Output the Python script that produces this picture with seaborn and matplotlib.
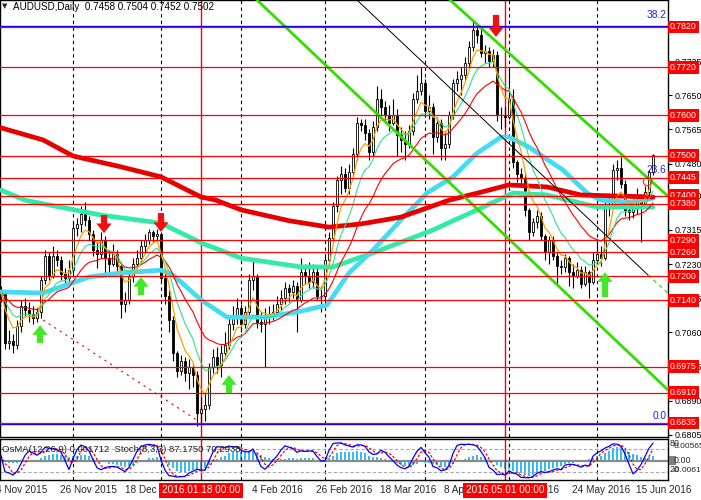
import numpy as np
import pandas as pd
import matplotlib
matplotlib.use("Agg")
import matplotlib.pyplot as plt
import seaborn as sns
from matplotlib.transforms import blended_transform_factory as btf

sns.set_theme(style="white")
plt.rcParams["font.family"] = ["Liberation Sans", "DejaVu Sans"]
plt.rcParams["patch.force_edgecolor"] = False

# ---------------- data ----------------
first_open = 0.7165
close = [
    0.7160, 0.7035, 0.7040, 0.7030, 0.7075, 0.7125, 0.7115, 0.7105, 0.7095, 0.7110,
    0.7190, 0.7250, 0.7200, 0.7250, 0.7240, 0.7205, 0.7195, 0.7215, 0.7320, 0.7330,
    0.7355, 0.7340, 0.7305, 0.7265, 0.7255, 0.7290, 0.7245, 0.7230, 0.7255, 0.7225,
    0.7130, 0.7140, 0.7200, 0.7230, 0.7245, 0.7275, 0.7290, 0.7310, 0.7300, 0.7305,
    0.7195, 0.7150, 0.7090, 0.7010, 0.6965, 0.6990, 0.6960, 0.6975, 0.6955, 0.6860,
    0.6870, 0.6880, 0.6975, 0.7000, 0.6980, 0.7010, 0.7030, 0.7080, 0.7095, 0.7120,
    0.7080, 0.7110, 0.7190, 0.7200, 0.7085, 0.7080, 0.7100, 0.7100, 0.7110, 0.7130,
    0.7145, 0.7170, 0.7160, 0.7175, 0.7140, 0.7210, 0.7200, 0.7185, 0.7210, 0.7150,
    0.7150, 0.7240, 0.7295, 0.7375, 0.7440, 0.7455, 0.7420, 0.7460, 0.7505, 0.7580,
    0.7575, 0.7555, 0.7510, 0.7570, 0.7640, 0.7620, 0.7600, 0.7580, 0.7600, 0.7550,
    0.7540, 0.7530, 0.7560, 0.7640, 0.7660, 0.7680, 0.7610, 0.7620, 0.7545, 0.7580,
    0.7520, 0.7530, 0.7600, 0.7680, 0.7690, 0.7700, 0.7730, 0.7770, 0.7812, 0.7800,
    0.7755, 0.7760, 0.7735, 0.7750, 0.7600, 0.7600, 0.7595, 0.7640, 0.7485, 0.7455,
    0.7445, 0.7365, 0.7310, 0.7335, 0.7350, 0.7300, 0.7260, 0.7290, 0.7250, 0.7225,
    0.7222, 0.7245, 0.7210, 0.7200, 0.7215, 0.7180, 0.7210, 0.7185, 0.7240, 0.7255,
    0.7245, 0.7372, 0.7380, 0.7465, 0.7470, 0.7430, 0.7365, 0.7360, 0.7375, 0.7400,
    0.7375, 0.7410, 0.7458, 0.7502]
high = [
    0.7175, 0.7160, 0.7065, 0.7055, 0.7090, 0.7140, 0.7145, 0.7135, 0.7125, 0.7120,
    0.7200, 0.7265, 0.7260, 0.7275, 0.7265, 0.7250, 0.7220, 0.7240, 0.7335, 0.7345,
    0.7375, 0.7385, 0.7350, 0.7315, 0.7285, 0.7310, 0.7300, 0.7265, 0.7280, 0.7265,
    0.7235, 0.7160, 0.7215, 0.7245, 0.7265, 0.7290, 0.7305, 0.7318, 0.7315, 0.7318,
    0.7310, 0.7215, 0.7165, 0.7100, 0.7015, 0.7005, 0.7000, 0.6995, 0.6985, 0.6965,
    0.6900, 0.6910, 0.6985, 0.7020, 0.7025, 0.7030, 0.7060, 0.7095, 0.7125, 0.7145,
    0.7130, 0.7125, 0.7205, 0.7240, 0.7205, 0.7110, 0.7120, 0.7125, 0.7130, 0.7150,
    0.7165, 0.7185, 0.7180, 0.7190, 0.7185, 0.7245, 0.7230, 0.7235, 0.7230, 0.7220,
    0.7175, 0.7250, 0.7310, 0.7385, 0.7450, 0.7475, 0.7470, 0.7480, 0.7520, 0.7595,
    0.7590, 0.7590, 0.7565, 0.7585, 0.7672, 0.7665, 0.7635, 0.7625, 0.7640, 0.7615,
    0.7570, 0.7560, 0.7575, 0.7655, 0.7700, 0.7720, 0.7690, 0.7650, 0.7630, 0.7595,
    0.7590, 0.7560, 0.7610, 0.7690, 0.7710, 0.7720, 0.7745, 0.7785, 0.7835, 0.7830,
    0.7815, 0.7775, 0.7770, 0.7765, 0.7760, 0.7620, 0.7620, 0.7718, 0.7665, 0.7490,
    0.7470, 0.7460, 0.7370, 0.7345, 0.7365, 0.7360, 0.7305, 0.7300, 0.7300, 0.7260,
    0.7240, 0.7255, 0.7250, 0.7230, 0.7235, 0.7225, 0.7225, 0.7215, 0.7260, 0.7290,
    0.7275, 0.7385, 0.7400, 0.7480, 0.7490, 0.7497, 0.7440, 0.7390, 0.7395, 0.7420,
    0.7405, 0.7425, 0.7465, 0.7504]
low = [
    0.7135, 0.7020, 0.7018, 0.7010, 0.7020, 0.7060, 0.7100, 0.7085, 0.7080, 0.7085,
    0.7095, 0.7180, 0.7190, 0.7195, 0.7225, 0.7190, 0.7180, 0.7185, 0.7205, 0.7300,
    0.7310, 0.7325, 0.7290, 0.7250, 0.7220, 0.7245, 0.7200, 0.7210, 0.7225, 0.7210,
    0.7095, 0.7110, 0.7130, 0.7185, 0.7220, 0.7235, 0.7260, 0.7280, 0.7285, 0.7285,
    0.7185, 0.7130, 0.7060, 0.6990, 0.6950, 0.6955, 0.6940, 0.6920, 0.6925, 0.6827,
    0.6835, 0.6840, 0.6870, 0.6960, 0.6960, 0.6950, 0.7000, 0.7020, 0.7065, 0.7080,
    0.7060, 0.7070, 0.7100, 0.7165, 0.7070, 0.7060, 0.6975, 0.7080, 0.7090, 0.7100,
    0.7115, 0.7130, 0.7135, 0.7145, 0.7060, 0.7135, 0.7180, 0.7170, 0.7170, 0.7140,
    0.7110, 0.7140, 0.7230, 0.7285, 0.7360, 0.7405, 0.7410, 0.7405, 0.7450, 0.7490,
    0.7560, 0.7540, 0.7490, 0.7500, 0.7560, 0.7600, 0.7585, 0.7560, 0.7575, 0.7500,
    0.7510, 0.7490, 0.7520, 0.7550, 0.7630, 0.7650, 0.7595, 0.7590, 0.7505, 0.7535,
    0.7489, 0.7490, 0.7520, 0.7590, 0.7660, 0.7650, 0.7690, 0.7720, 0.7760, 0.7780,
    0.7745, 0.7730, 0.7720, 0.7720, 0.7585, 0.7565, 0.7570, 0.7590, 0.7470, 0.7435,
    0.7430, 0.7350, 0.7290, 0.7300, 0.7320, 0.7290, 0.7240, 0.7230, 0.7240, 0.7175,
    0.7205, 0.7210, 0.7175, 0.7170, 0.7195, 0.7170, 0.7175, 0.7145, 0.7180, 0.7230,
    0.7225, 0.7240, 0.7350, 0.7370, 0.7440, 0.7420, 0.7350, 0.7340, 0.7345, 0.7355,
    0.7285, 0.7370, 0.7400, 0.7452]

# long moving averages read at sample bars
ma_red_bar = [0, 10.5, 18, 30, 40, 50, 53.5, 60, 72, 82, 90, 100, 112, 120, 127, 136.5, 145, 163]
ma_red_val = [0.7569, 0.7539, 0.7499, 0.7472, 0.7447, 0.7397, 0.7390, 0.7365, 0.7338, 0.7322,
              0.7330, 0.7347, 0.7389, 0.7409, 0.7427, 0.7422, 0.7402, 0.7397]
ma_teal_bar = [0, 6, 25, 40, 50, 60, 75, 83, 93, 108, 119, 128, 136.5, 149, 163]
ma_teal_val = [0.7414, 0.7389, 0.7352, 0.7332, 0.7283, 0.7245, 0.7223, 0.7223, 0.7258, 0.7315,
               0.7365, 0.7407, 0.7402, 0.7372, 0.7372]
ma_cyan_bar = [0, 10.5, 22, 30, 40, 43, 50, 56.5, 66.5, 75, 81.5, 87, 93, 100, 106.5, 113, 119,
               125, 127, 132, 140.5, 146.5, 150, 157, 163]
ma_cyan_val = [0.7161, 0.7158, 0.7198, 0.7208, 0.7215, 0.7203, 0.7141, 0.7098, 0.7098, 0.7113,
               0.7128, 0.7208, 0.7265, 0.7340, 0.7407, 0.7447, 0.7506, 0.7546, 0.7546, 0.7521,
               0.7464, 0.7407, 0.7389, 0.7384, 0.7394]

levels = [0.7820, 0.7720, 0.7600, 0.7500, 0.7445, 0.7400, 0.7380, 0.7290, 0.7260,
          0.7200, 0.7140, 0.6975, 0.6910, 0.6835]
fib_levels = [0.7823, 0.6832]
price_ticks = [0.6805, 0.6890, 0.6975, 0.7060, 0.7145, 0.7230, 0.7315, 0.7400, 0.7480,
               0.7565, 0.7650, 0.7735]

# trend lines (bar, price) end points
green_line1 = ([64, 166.75], [0.7887, 0.6917])
green_line2 = ([112.25, 166.75], [0.7887, 0.7399])
black_line = ([89, 161.75], [0.7887, 0.7203])
black_line_tail = ([161.75, 166.75], [0.7203, 0.7158])
red_dot_line = ([10.5, 49], [0.7091, 0.6842])

month_bars = [18, 40, 60, 81, 106, 127, 149]
marker_bars = [50, 126]
marker_texts = ["2016.01.18 00:00", "2016.05.01 00:00"]
date_labels = ["4 Nov 2015", "26 Nov 2015", "18 Dec 2015", "4 Feb 2016",
               "26 Feb 2016", "18 Mar 2016", "8 Apr 2016", "29 Apr 2016", "24 May 2016",
               "15 Jun 2016"]
date_bars = [-1.25, 14.75, 31.0, 62.75, 78.75, 94.75, 110.75, 126.0, 142.75, 158.75]

down_arrows = ([25.75, 40, 123.75], [0.7307, 0.7310, 0.7795], [0.7352, 0.7357, 0.7850])
up_arrows = ([9.75, 35, 57, 151], [0.7078, 0.7198, 0.6954, 0.7210], [0.7034, 0.7153, 0.6909, 0.7148])

assert len(close) == len(high) == len(low) == 164

# ---------------- derived ----------------
n = len(close)
bars = np.arange(n)
c = np.array(close)
o = np.array([first_open] + close[:-1])
h = np.maximum(np.array(high), np.maximum(o, c))
l = np.minimum(np.array(low), np.minimum(o, c))
s = pd.Series(c)
ema_fast = s.ewm(span=5, adjust=False).mean()
ema_mid = s.ewm(span=10, adjust=False).mean()
ema_slow = s.ewm(span=20, adjust=False).mean()
macd = s.ewm(span=12, adjust=False).mean() - s.ewm(span=26, adjust=False).mean()
osma = macd - macd.rolling(9, min_periods=1).mean()
hh = pd.Series(h).rolling(5, min_periods=1).max()
ll = pd.Series(l).rolling(5, min_periods=1).min()
num = (s - ll).rolling(3, min_periods=1).sum()
den = (hh - ll).rolling(3, min_periods=1).sum()
stoch_k = 100 * num / den
stoch_d = stoch_k.rolling(3, min_periods=1).mean()

# ---------------- figure ----------------
W, H = 701, 500
fig = plt.figure(figsize=(W / 100, H / 100), dpi=100)
fig.patch.set_facecolor("white")
axw = 668 / W
ax = fig.add_axes([0, 1 - 437 / H, axw, 437 / H])
axo = fig.add_axes([0, 1 - 480 / H, axw, 41 / H])
for a in (ax, axo):
    a.set_facecolor("white")
    for sp in a.spines.values():
        sp.set_color("black")
        sp.set_linewidth(1.0)
    a.set_xlim(-0.25, 166.75)
    a.set_xticks([])

ax.set_ylim(0.6800, 0.7887)
FS = 6.8

# vertical separators
for b in month_bars:
    for a in (ax, axo):
        a.axvline(b, color="black", lw=0.8, ls=(0, (3, 3)), zorder=1)
for b in marker_bars:
    for a in (ax, axo):
        a.axvline(b, color="#ff0000", lw=1.0, zorder=1)

# candles
up = c >= o
ax.vlines(bars, l, h, color="black", lw=0.8, zorder=3)
body_bot = np.minimum(o, c)
body_h = np.maximum(np.abs(c - o), 0.00008)
ax.bar(bars[up], body_h[up], bottom=body_bot[up], width=0.72, color="white",
       edgecolor="black", linewidth=0.6, zorder=3.2)
ax.bar(bars[~up], body_h[~up], bottom=body_bot[~up], width=0.72, color="black",
       edgecolor="black", linewidth=0.6, zorder=3.2)

# moving averages
sns.lineplot(x=ma_teal_bar, y=ma_teal_val, ax=ax, color="#33eaa6", lw=3.4, sort=False, zorder=4)
sns.lineplot(x=ma_cyan_bar, y=ma_cyan_val, ax=ax, color="#45dcf2", lw=3.4, sort=False, zorder=4)
sns.lineplot(x=ma_red_bar, y=ma_red_val, ax=ax, color="#e60000", lw=3.4, sort=False, zorder=4)
sns.lineplot(x=bars, y=ema_slow.values, ax=ax, color="#ff0000", lw=0.8, sort=False, zorder=4.2)
sns.lineplot(x=bars, y=ema_mid.values, ax=ax, color="#2ee38a", lw=0.8, sort=False, zorder=4.2)
sns.lineplot(x=bars, y=ema_fast.values, ax=ax, color="#ffa000", lw=0.9, sort=False, zorder=4.3)

# trend lines
ax.plot(*green_line1, color="#33dd00", lw=2.0, zorder=4.5)
ax.plot(*green_line2, color="#33dd00", lw=2.0, zorder=4.5)
ax.plot(*black_line, color="black", lw=0.7, zorder=4.5)
ax.plot(*black_line_tail, color="#33dd00", lw=0.9, ls=(0, (3, 3)), zorder=4.5)
ax.plot(*red_dot_line, color="#ff0000", lw=0.8, ls=(0, (2, 4)), zorder=4.5)

# horizontal levels
for f in fib_levels:
    ax.axhline(f, color="#0000ff", lw=1.0, zorder=5)
for lv in levels:
    ax.axhline(lv, color="#ff0000", lw=0.9, zorder=5.1)

# arrows
for x, tip, tail in zip(*down_arrows):
    ax.annotate("", xy=(x, tip), xytext=(x, tail),
                arrowprops=dict(arrowstyle="simple,head_width=1.1,head_length=0.7,tail_width=0.45",
                                color="#ee1111", mutation_scale=10, shrinkA=0, shrinkB=0, lw=0),
                zorder=6)
for x, tip, tail in zip(*up_arrows):
    ax.annotate("", xy=(x, tip), xytext=(x, tail),
                arrowprops=dict(arrowstyle="simple,head_width=1.1,head_length=0.7,tail_width=0.45",
                                color="#44e62a", mutation_scale=10, shrinkA=0, shrinkB=0, lw=0),
                zorder=6)

ax.plot([161.5], [0.7436], marker="o", ms=6, mfc="none", mec="#ff3030", mew=0.9, zorder=6)
ax.text(166.3, 0.7838, "38.2", color="#2020ee", fontsize=FS + 0.5, ha="right", va="bottom", zorder=7)
ax.text(166.3, 0.7452, "23.6", color="#2020ee", fontsize=FS + 0.5, ha="right", va="bottom", zorder=7)
ax.text(166.3, 0.6840, "0.0", color="#2020ee", fontsize=FS + 0.5, ha="right", va="bottom", zorder=7)

# right price axis
ax.yaxis.tick_right()
ax.set_yticks(price_ticks)
ax.set_yticklabels([f"{t:.4f}" for t in price_ticks])
ax.tick_params(axis="y", direction="out", length=3, width=0.8, pad=2, labelsize=6.4,
               colors="black", right=True, left=False)
trans = btf(ax.transAxes, ax.transData)
for lv in levels:
    ax.text(670 / 668, lv, f"{lv:.4f}", transform=trans, fontsize=6.3, color="white",
            ha="left", va="center", clip_on=False, zorder=10,
            bbox=dict(boxstyle="square,pad=0.22", fc="#ff0000", ec="none"))

fig.text(2 / W, 1 - 6.5 / H, "\u25BC", fontsize=5, ha="left", va="center",
         family=["DejaVu Sans"])
fig.text(13 / W, 1 - 6.5 / H, "AUDUSD,Daily  0.7458 0.7504 0.7452 0.7502", fontsize=FS + 0.3,
         ha="left", va="center", color="black")

# oscillator panel
axo.set_ylim(-0.9, 106.1)
axo.set_yticks([])
axm = axo.twinx()
k = float(np.abs(osma.iloc[26:]).max()) / 15.0
axm.set_ylim(-19.5 * k, 21.5 * k)
axm.set_yticks([])
axm.set_xlim(-0.25, 166.75)
for sp in axm.spines.values():
    sp.set_visible(False)
axm.bar(bars, osma.values, width=0.72, color="#35bdf0", edgecolor="none", linewidth=0, zorder=2)
axm.axhline(0, color="#8a8a8a", lw=1.6, zorder=3)
axo.set_zorder(axm.get_zorder() + 1)
axo.patch.set_visible(False)
axm.patch.set_visible(True)
axm.patch.set_facecolor("white")
for lvl in (20, 80):
    axo.axhline(lvl, color="#a8a8a8", lw=0.8, ls=(0, (3, 2)), zorder=2)
sns.lineplot(x=bars, y=stoch_d.values, ax=axo, color="#ff0000", lw=0.9, ls=(0, (2, 1.5)),
             sort=False, zorder=4)
sns.lineplot(x=bars, y=stoch_k.values, ax=axo, color="#0000ff", lw=0.9, sort=False, zorder=5)
fig.text(2 / W, 1 - 449 / H, "OsMA(12,26,9) 0.001712  Stoch(5,3,3) 87.1750 70.2938",
         fontsize=FS, ha="left", va="center", color="#222222", zorder=10)

fig.text(670 / W, 1 - 444 / H, "80", fontsize=6.4, ha="left", va="center")
fig.text(674 / W, 1 - 446 / H, "0.00565", fontsize=6.0, ha="left", va="center")
fig.patches.append(plt.Rectangle((669 / W, 1 - 465 / H), 7 / W, 9 / H, transform=fig.transFigure,
                                 fc="#808080", ec="none"))
fig.text(674 / W, 1 - 460.5 / H, "0.00", fontsize=6.4, ha="left", va="center")
fig.text(670 / W, 1 - 469 / H, "20", fontsize=6.4, ha="left", va="center")
fig.text(673 / W, 1 - 471 / H, "-0.0061", fontsize=6.0, ha="left", va="center")

# date axis
dtrans = btf(axo.transData, fig.transFigure)
for b, t in zip(date_bars, date_labels):
    axo.text(b, 1 - 490 / H, t, transform=dtrans, fontsize=FS + 0.4, ha="left", va="center",
             clip_on=False, zorder=8)
for b, t in zip(marker_bars, marker_texts):
    axo.text(b, 1 - 490 / H, t, transform=dtrans, fontsize=FS + 0.4, ha="center", va="center",
             color="white", clip_on=False, zorder=9,
             bbox=dict(boxstyle="square,pad=0.25", fc="#ff0000", ec="none"))

fig.savefig("out.png", dpi=100, facecolor="white")
